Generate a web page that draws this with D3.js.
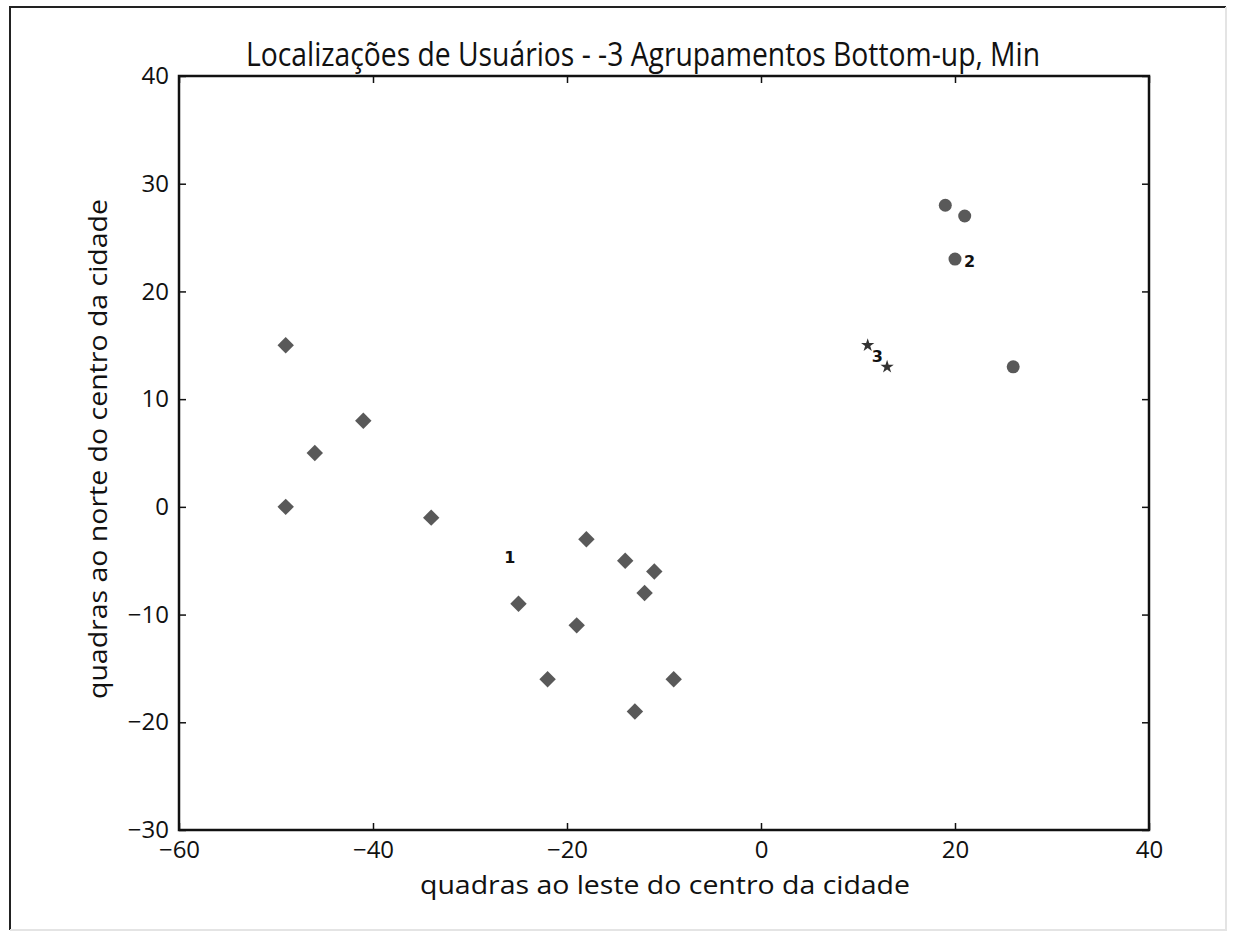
<!DOCTYPE html>
<html>
<head>
<meta charset="utf-8">
<script src="https://cdn.jsdelivr.net/npm/d3@7"></script>
<style>
  body { margin: 0; background: #fff; }
  text { font-family: "Open Sans", sans-serif; fill: #111; }
  .title { font-size: 32px; }
  .label { font-size: 25px; }
  .clabel { font-family: "DejaVu Sans", sans-serif; font-size: 16px; font-weight: bold; }
</style>
</head>
<body>
<div id="chart"></div>
<script>
// data: user locations by cluster (blocks east / north of downtown)
const group1 = [[-49, 15], [-46, 5], [-41, 8], [-49, 0], [-34, -1], [-18, -3], [-14, -5],
                [-11, -6], [-12, -8], [-25, -9], [-19, -11], [-22, -16], [-9, -16], [-13, -19]];
const group2 = [[19, 28], [21, 27], [20, 23], [26, 13]];
const group3 = [[11, 15], [13, 13]];
const clusterLabels = ["1", "2", "3"];
const clusterPos = [[-25.9, -4.7], [21.5, 22.75], [12, 14]];
const xTicks = [-60, -40, -20, 0, 20, 40];
const yTicks = [-30, -20, -10, 0, 10, 20, 30, 40];

// size and margins
const W = 1235, H = 936;
const margin = {top: 76, right: 86, bottom: 106, left: 179};
const width = W - margin.left - margin.right;
const height = H - margin.top - margin.bottom;

const root = d3.select("#chart")
  .append("svg")
    .attr("width", W)
    .attr("height", H);

// outer frame of the figure
root.append("path")
    .attr("d", "M10,930 L10,7 L1226,7")
    .attr("fill", "none").attr("stroke", "#222").attr("stroke-width", 2);
root.append("path")
    .attr("d", "M1226,7 L1226,930 L10,930")
    .attr("fill", "none").attr("stroke", "#e4e4e4").attr("stroke-width", 2);

const svg = root.append("g")
    .attr("transform", `translate(${margin.left}, ${margin.top})`);

const x = d3.scaleLinear().domain([-60, 40]).range([0, width]);
const y = d3.scaleLinear().domain([-30, 40]).range([height, 0]);

const fmt = d => d3.format("d")(d).replace("-", "\u2212");

// axes with inward ticks on all four sides
function styleAxis(g) {
  g.select(".domain").remove();
  g.selectAll(".tick line").attr("stroke", "#111").attr("stroke-width", 1.5);
  g.selectAll(".tick text").style("font-size", "24px").style("fill", "#111");
}
svg.append("g")
    .attr("transform", `translate(0, ${height})`)
  .call(d3.axisBottom(x).tickValues(xTicks).tickSizeInner(-7).tickSizeOuter(0)
        .tickPadding(11).tickFormat(fmt))
  .call(styleAxis);
svg.append("g")
  .call(d3.axisTop(x).tickValues(xTicks).tickSizeInner(-7).tickSizeOuter(0).tickFormat(""))
  .call(styleAxis);
svg.append("g")
  .call(d3.axisLeft(y).tickValues(yTicks).tickSizeInner(-7).tickSizeOuter(0)
        .tickPadding(10).tickFormat(fmt))
  .call(styleAxis);
svg.append("g")
    .attr("transform", `translate(${width}, 0)`)
  .call(d3.axisRight(y).tickValues(yTicks).tickSizeInner(-7).tickSizeOuter(0).tickFormat(""))
  .call(styleAxis);

// plot frame
svg.append("rect")
    .attr("width", width).attr("height", height)
    .attr("fill", "none").attr("stroke", "#111").attr("stroke-width", 2.5);

const markColor = "#595959";

// group 1: diamonds
svg.append("g").selectAll("path")
  .data(group1)
  .join("path")
    .attr("transform", d => `translate(${x(d[0])}, ${y(d[1])}) rotate(45)`)
    .attr("d", d3.symbol(d3.symbolSquare, 135))
    .attr("fill", markColor);

// group 2: circles
svg.append("g").selectAll("circle")
  .data(group2)
  .join("circle")
    .attr("cx", d => x(d[0]))
    .attr("cy", d => y(d[1]))
    .attr("r", 6.5)
    .attr("fill", markColor);

// group 3: stars
svg.append("g").selectAll("path")
  .data(group3)
  .join("path")
    .attr("transform", d => `translate(${x(d[0])}, ${y(d[1])})`)
    .attr("d", d3.symbol(d3.symbolStar, 55))
    .attr("fill", "#333");

// cluster number labels
svg.append("g").selectAll("text")
  .data(clusterPos)
  .join("text")
    .attr("class", "clabel")
    .attr("x", d => x(d[0]))
    .attr("y", d => y(d[1]))
    .attr("dy", "0.35em")
    .attr("text-anchor", "middle")
    .text((d, i) => clusterLabels[i]);

// title
svg.append("text")
    .attr("class", "title")
    .attr("x", 464)
    .attr("y", -10)
    .attr("text-anchor", "middle")
    .attr("textLength", 794)
    .attr("lengthAdjust", "spacingAndGlyphs")
  .text("Localizações de Usuários - -3 Agrupamentos Bottom-up, Min");

// x axis label
svg.append("text")
    .attr("class", "label")
    .attr("x", 486)
    .attr("y", height + 64)
    .attr("text-anchor", "middle")
    .attr("textLength", 490)
    .attr("lengthAdjust", "spacingAndGlyphs")
  .text("quadras ao leste do centro da cidade");

// y axis label
svg.append("text")
    .attr("class", "label")
    .attr("transform", `translate(-72, ${height / 2 - 4}) rotate(-90)`)
    .attr("text-anchor", "middle")
    .attr("textLength", 500)
    .attr("lengthAdjust", "spacingAndGlyphs")
  .text("quadras ao norte do centro da cidade");
</script>
</body>
</html>
